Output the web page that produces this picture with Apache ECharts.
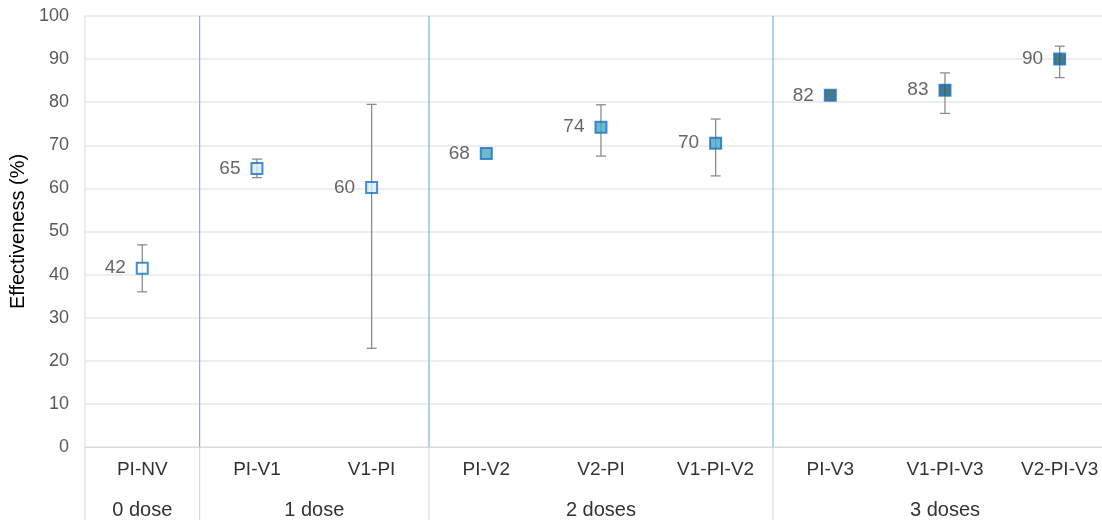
<!DOCTYPE html>
<html>
<head>
<meta charset="utf-8">
<script src="https://cdn.jsdelivr.net/npm/echarts@6/dist/echarts.min.js"></script>
<style>
html,body{margin:0;padding:0;background:#fff;overflow:hidden;width:1102px;height:520px;}
#chart{width:1117px;height:520px;}
</style>
</head>
<body>
<div id="chart"></div>
<script>
// ---- data ----
const categories = ['PI-NV','PI-V1','V1-PI','PI-V2','V2-PI','V1-PI-V2','PI-V3','V1-PI-V3','V2-PI-V3'];
const values     = [41.5, 64.6, 60.2, 68.1, 74.2, 70.5, 81.6, 82.8, 90.0];
const labels     = ['42','65','60','68','74','70','82','83','90'];
const lowerCI    = [36.0, 62.5, 22.9, null, 67.5, 62.9, null, 77.4, 85.7];
const upperCI    = [46.9, 66.8, 79.5, null, 79.4, 76.1, null, 86.8, 93.0];
const groupNames = ['0 dose','1 dose','2 doses','3 doses'];
const groupSizes = [1, 2, 3, 3];
const yTicks     = [0,10,20,30,40,50,60,70,80,90,100];

// ---- styles ----
const FONT = 'Liberation Sans, Arial, sans-serif';
const groupFill = ['#ffffff', '#dcebf7', '#4aa8c4', '#1f5868'];
const markerBorder = '#1572c6';

// derived
const groupOfCat = [];
groupSizes.forEach((n, g) => { for (let k = 0; k < n; k++) groupOfCat.push(g); });
const groupRanges = [];
let s = 0;
groupSizes.forEach((n) => { groupRanges.push([s, s + n - 1, 0]); s += n; });

const chart = echarts.init(document.getElementById('chart'));
const option = {
  animation: false,
  grid: { left: 84, right: 0, top: 16, bottom: 73 },
  xAxis: {
    type: 'category',
    data: categories,
    axisLine: { show: true, lineStyle: { color: '#d9d9d9', width: 1 } },
    axisTick: { show: false },
    axisLabel: { color: '#333333', fontSize: 19, fontFamily: FONT, margin: 13 },
    splitLine: { show: false }
  },
  yAxis: {
    type: 'value',
    min: yTicks[0], max: yTicks[yTicks.length - 1], interval: 10,
    name: 'Effectiveness (%)',
    nameLocation: 'middle',
    nameGap: 55,
    nameRotate: 90,
    nameTextStyle: { color: '#000000', fontSize: 20, fontFamily: FONT },
    axisLine: { show: false },
    axisTick: { show: false },
    axisLabel: { color: '#595959', fontSize: 18, fontFamily: FONT, margin: 16, padding: [3, 0, 0, 0] },
    splitLine: { lineStyle: { color: '#e8e8e8', width: 1.5 } }
  },
  series: [
    {
      // group separators and group labels
      type: 'custom',
      clip: false,
      silent: true,
      z: 1,
      data: groupRanges,
      encode: { x: 0, y: 2 },
      renderItem: function (params, api) {
        const start = api.value(0);
        const end = api.value(1);
        const band = api.size([1, 0])[0];
        const pStart = api.coord([start, 0]);
        const pEnd = api.coord([end, 0]);
        const pTop = api.coord([start, 100]);
        const xLeft = pStart[0] - band / 2;
        const yAxis0 = pStart[1];
        const children = [];
        const g = params.dataIndex;
        children.push({
          type: 'line',
          shape: { x1: xLeft, y1: yAxis0, x2: xLeft, y2: 520 },
          style: { stroke: '#d9d9d9', lineWidth: 1.2 }
        });
        children.push({
          type: 'line',
          shape: { x1: xLeft, y1: pTop[1], x2: xLeft, y2: yAxis0 },
          style: { stroke: g === 0 ? '#e0e0e0' : '#7fb2e0', lineWidth: 1.2 }
        });
        children.push({
          type: 'text',
          style: {
            text: groupNames[g],
            x: (pStart[0] + pEnd[0]) / 2,
            y: yAxis0 + 63,
            align: 'center',
            verticalAlign: 'middle',
            fill: '#333333',
            fontSize: 20,
            fontFamily: FONT
          }
        });
        return { type: 'group', children: children };
      }
    },
    {
      // error bars
      type: 'custom',
      z: 2,
      silent: true,
      data: categories.map((c, i) => lowerCI[i] == null ? [i, '-', '-'] : [i, lowerCI[i], upperCI[i]]),
      encode: { x: 0, y: [1, 2] },
      renderItem: function (params, api) {
        const lo = api.value(1), hi = api.value(2);
        if (isNaN(lo) || isNaN(hi)) return null;
        const pLo = api.coord([api.value(0), lo]);
        const pHi = api.coord([api.value(0), hi]);
        const cap = 5;
        const st = { stroke: '#8c8c8c', lineWidth: 1.3 };
        return {
          type: 'group',
          children: [
            { type: 'line', shape: { x1: pLo[0], y1: pLo[1], x2: pHi[0], y2: pHi[1] }, style: st },
            { type: 'line', shape: { x1: pLo[0] - cap, y1: pLo[1], x2: pLo[0] + cap, y2: pLo[1] }, style: st },
            { type: 'line', shape: { x1: pHi[0] - cap, y1: pHi[1], x2: pHi[0] + cap, y2: pHi[1] }, style: st }
          ]
        };
      }
    },
    {
      type: 'scatter',
      z: 3,
      symbol: 'rect',
      symbolSize: 11,
      data: values.map((v, i) => ({
        value: v,
        itemStyle: { color: groupFill[groupOfCat[i]], borderColor: markerBorder, borderWidth: 2 }
      })),
      label: {
        show: true,
        position: 'left',
        distance: 10,
        formatter: (p) => labels[p.dataIndex],
        color: '#404040',
        fontSize: 19,
        fontFamily: FONT
      }
    }
  ]
};
chart.setOption(option);
</script>
</body>
</html>
